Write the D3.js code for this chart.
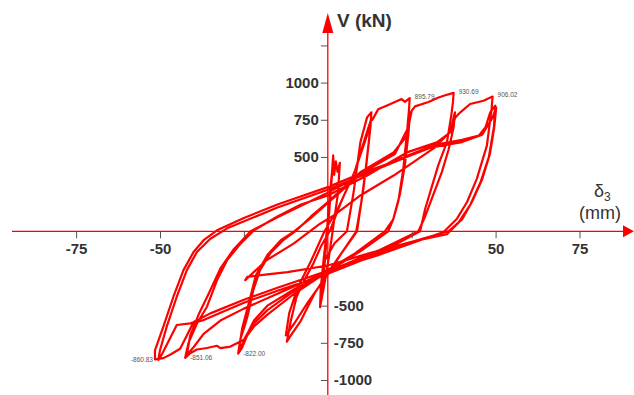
<!DOCTYPE html>
<html><head><meta charset="utf-8">
<script src="https://cdn.jsdelivr.net/npm/d3@7"></script>
<style>html,body{margin:0;padding:0;background:#fff;}svg{display:block;}</style>
</head><body>
<svg id="chart" width="634" height="395"></svg>
<script>
// ---- data (displacement mm, shear kN) ----
const elastic = [[0,0],[0.9,280],[1.6,510],[1.9,380],[2.4,470],[2.9,400],[3.6,460],[3.0,250],[1.8,60],[0.5,-150],[-0.8,-330],[-2.3,-510],[-2.1,-380],[-1.2,-180],[-0.2,20],[0.7,275],[1.4,430],[1.0,300],[0,60],[-1.3,-328],[-1.8,-420],[-1.0,-200]];
const level13 = [[2,-80],[5.7,0],[7.7,264],[9.7,598],[11.7,766],[13,800],[12.7,700],[11.7,500],[10.7,300],[9.5,120],[8.7,0],[4,-150],[0,-280],[-4,-420],[-8,-600],[-11,-700],[-12.2,-742],[-11,-600],[-9.3,-440],[-6.8,-320],[-4.3,-216],[-2,-100],[0.7,7],[4,200],[8,400],[11,600],[12.8,720],[11.5,450],[10,200],[8.5,0],[4,-150],[0,-290],[-6,-480],[-10,-620],[-12.5,-700],[-11.5,-550],[-9,-380],[-5,-200],[-1,0]];
const level25 = [[3,150],[8,400],[11,620],[13,760],[13.3,750],[15,820],[18,850],[22,889],[23,870],[24.4,896],[24.2,820],[23.5,640],[22.5,420],[21,200],[19.5,80],[18,0],[10,-130],[0,-270],[-10,-420],[-18,-560],[-22,-640],[-24,-700],[-25.5,-780],[-26.7,-822],[-26,-720],[-24.8,-640],[-23.7,-552],[-22.2,-395],[-20.2,-261],[-17.2,-150],[-13.3,-60],[-9.3,7],[-5,100],[0,196],[9.7,397],[19.6,531],[23.6,643],[24.5,800],[24,650],[23,450],[21.5,250],[19.5,80],[17,0],[8,-150],[0,-260],[-10,-400],[-18,-530],[-22,-620],[-25,-740],[-26.5,-800],[-25.5,-650],[-23.5,-480],[-21.5,-300],[-18,-160],[-14,-60],[-10,0]];
const level38 = [[-5,90],[0,190],[10,390],[20,520],[24,700],[25,811],[26,840],[30,870],[33,900],[35,915],[37.5,931],[37.3,870],[36.8,780],[35.5,600],[33,450],[31,300],[29,150],[27.5,0],[20,-90],[10,-190],[0,-280],[-10,-390],[-18,-500],[-22,-600],[-24,-690],[-25,-730],[-29,-775],[-32,-786],[-33,-770],[-36,-785],[-39,-795],[-41,-820],[-42.5,-851],[-41.5,-750],[-39,-620],[-36,-507],[-33,-328],[-30,-194],[-26,-83],[-22,7],[-15,100],[-8,180],[0,241],[11.7,375],[23.6,531],[32.5,598],[36.5,665],[37.5,766],[37.9,800],[37.5,700],[36,550],[34,400],[31.5,250],[29,100],[27,0],[15,-130],[0,-270],[-15,-420],[-25,-520],[-32,-600],[-37,-690],[-40,-780],[-42,-830],[-41,-700],[-38.5,-560],[-35.5,-420],[-32,-250],[-28,-120],[-23,0]];
const level50 = [[-15,95],[0,260],[12,400],[25,520],[33,590],[36.5,670],[38,766],[39.5,800],[42.4,856],[46.4,878],[49.1,906],[48.8,820],[47.4,576],[44.4,353],[41.5,197],[38.5,85],[34.5,-5],[25,-80],[15,-160],[0,-265],[-15,-380],[-25,-460],[-35,-552],[-40,-610],[-42,-700],[-44,-790],[-47,-830],[-49,-853],[-51.5,-861],[-51.5,-800],[-49,-641],[-46,-440],[-43,-261],[-40,-139],[-37,-60],[-33,7],[-25,90],[-15,180],[0,297],[10,390],[20,470],[33.5,588],[40,615],[45,643],[47,700],[48.4,800],[49.9,845],[49.5,700],[48,500],[45.5,330],[42.5,180],[39,60],[35.5,-20],[25,-70],[15,-150],[0,-285],[-15,-400],[-25,-480],[-37,-597],[-41,-619],[-45,-630],[-47,-720],[-49.5,-830],[-50.5,-865],[-50,-800],[-48,-641],[-45,-440],[-42,-261],[-39,-139],[-35,-50],[-30,20],[-15,160],[0,280],[15,420],[30,560],[40,600],[46,650],[49,760],[50.2,833],[49.6,700],[48.3,520],[46,350],[43,200],[40,80],[36,0],[25,-70],[12,-150],[0,-230]];
const finalRamp = [[-12,-275],[-18,-290],[-24,-306],[-24.6,-328],[-18.2,-194],[-10.2,-83],[-2.3,51],[1.8,107],[9.7,241],[19.6,375],[33.5,588]];

const peakLabels = [
  {x:24.4, v:896, text:"895.79", side:"right"},
  {x:37.5, v:931, text:"930.69", side:"right"},
  {x:49.1, v:906, text:"906.02", side:"right"},
  {x:-51.5, v:-861, text:"-860.83", side:"left"},
  {x:-42.5, v:-851, text:"-851.06", side:"right"},
  {x:-26.7, v:-822, text:"-822.00", side:"right"}
];
const xTicks = [-75,-50,-25,25,50,75];
const xTickLabels = ["-75","-50","","","50","75"];
const yTicks = [-1000,-750,-500,500,750,1000,1250];
const yTickLabels = ["-1000","-750","-500","500","750","1000",""];

// ---- drawing ----
const svg = d3.select("#chart");
const x = d3.scaleLinear().domain([-75,75]).range([76.1,579.5]);
const y = d3.scaleLinear().domain([-1000,1000]).range([380,82.6]);
const red = "#ff0000", txt = "#333";
const x0 = x(0), y0 = y(0);

// curve
const all = [].concat(elastic, level13, level25, level38, level50, finalRamp);
svg.append("path").datum(all)
  .attr("d", d3.line().x(d=>x(d[0])).y(d=>y(d[1])))
  .attr("fill","none").attr("stroke",red).attr("stroke-width",2.2)
  .attr("stroke-linejoin","round").attr("stroke-linecap","round");

// axes lines
svg.append("line").attr("x1",12).attr("x2",626).attr("y1",y0).attr("y2",y0)
  .attr("stroke",red).attr("stroke-width",1.3);
svg.append("line").attr("x1",x0).attr("x2",x0).attr("y1",30).attr("y2",395)
  .attr("stroke",red).attr("stroke-width",1.3);
svg.append("path").attr("d",`M${634},${y0} L${623},${y0-6} L${623},${y0+6} Z`).attr("fill",red);
svg.append("path").attr("d",`M${x0},${13} L${x0-5.5},${33} L${x0+5.5},${33} Z`).attr("fill",red);

// x ticks via axis
const xa = svg.append("g").attr("transform",`translate(0,${y0})`)
  .call(d3.axisBottom(x).tickValues(xTicks).tickSize(7).tickFormat((d,i)=>xTickLabels[i]));
xa.select(".domain").remove();
xa.selectAll(".tick line").attr("stroke","#555");
xa.selectAll(".tick text").attr("fill",txt).attr("font-family","Liberation Sans, Arial, sans-serif")
  .attr("font-size",15).attr("font-weight","bold").attr("dy","0.82em").attr("y",10);

// y ticks via axis
const ya = svg.append("g").attr("transform",`translate(${x0},0)`)
  .call(d3.axisLeft(y).tickValues(yTicks).tickSize(7).tickFormat(""));
ya.select(".domain").remove();
ya.selectAll(".tick line").attr("stroke","#555");
svg.append("g").selectAll("text").data(yTicks.map((t,i)=>({t,l:yTickLabels[i]})))
  .join("text")
  .attr("x",d=>d.t>0 ? x0-9 : x0+6)
  .attr("y",d=>y(d.t)).attr("dy","0.36em")
  .attr("text-anchor",d=>d.t>0?"end":"start")
  .attr("fill",txt).attr("font-family","Liberation Sans, Arial, sans-serif")
  .attr("font-size",15).attr("font-weight","bold").text(d=>d.l);

// axis titles
svg.append("text").attr("x",337).attr("y",27).attr("fill",txt)
  .attr("font-family","Liberation Sans, Arial, sans-serif").attr("font-size",19).attr("font-weight","bold")
  .text("V (kN)");
const dl = svg.append("text").attr("x",594).attr("y",197).attr("fill",txt)
  .attr("font-family","Liberation Sans, Arial, sans-serif").attr("font-size",18);
dl.append("tspan").text("δ");
dl.append("tspan").attr("font-size",12).attr("dy",4).text("3");
svg.append("text").attr("x",600).attr("y",219).attr("text-anchor","middle").attr("fill",txt)
  .attr("font-family","Liberation Sans, Arial, sans-serif").attr("font-size",18).text("(mm)");

// peak labels
svg.append("g").selectAll("text").data(peakLabels).join("text")
  .attr("x",d=>d.side==="right"? x(d.x)+5 : x(d.x)-2)
  .attr("y",d=>y(d.v)).attr("dy",d=>d.v>0?"0.1em":"0.4em")
  .attr("text-anchor",d=>d.side==="right"?"start":"end")
  .attr("fill","#555").attr("font-family","Liberation Sans, Arial, sans-serif")
  .attr("font-size",6.5).text(d=>d.text);
</script>
</body></html>
